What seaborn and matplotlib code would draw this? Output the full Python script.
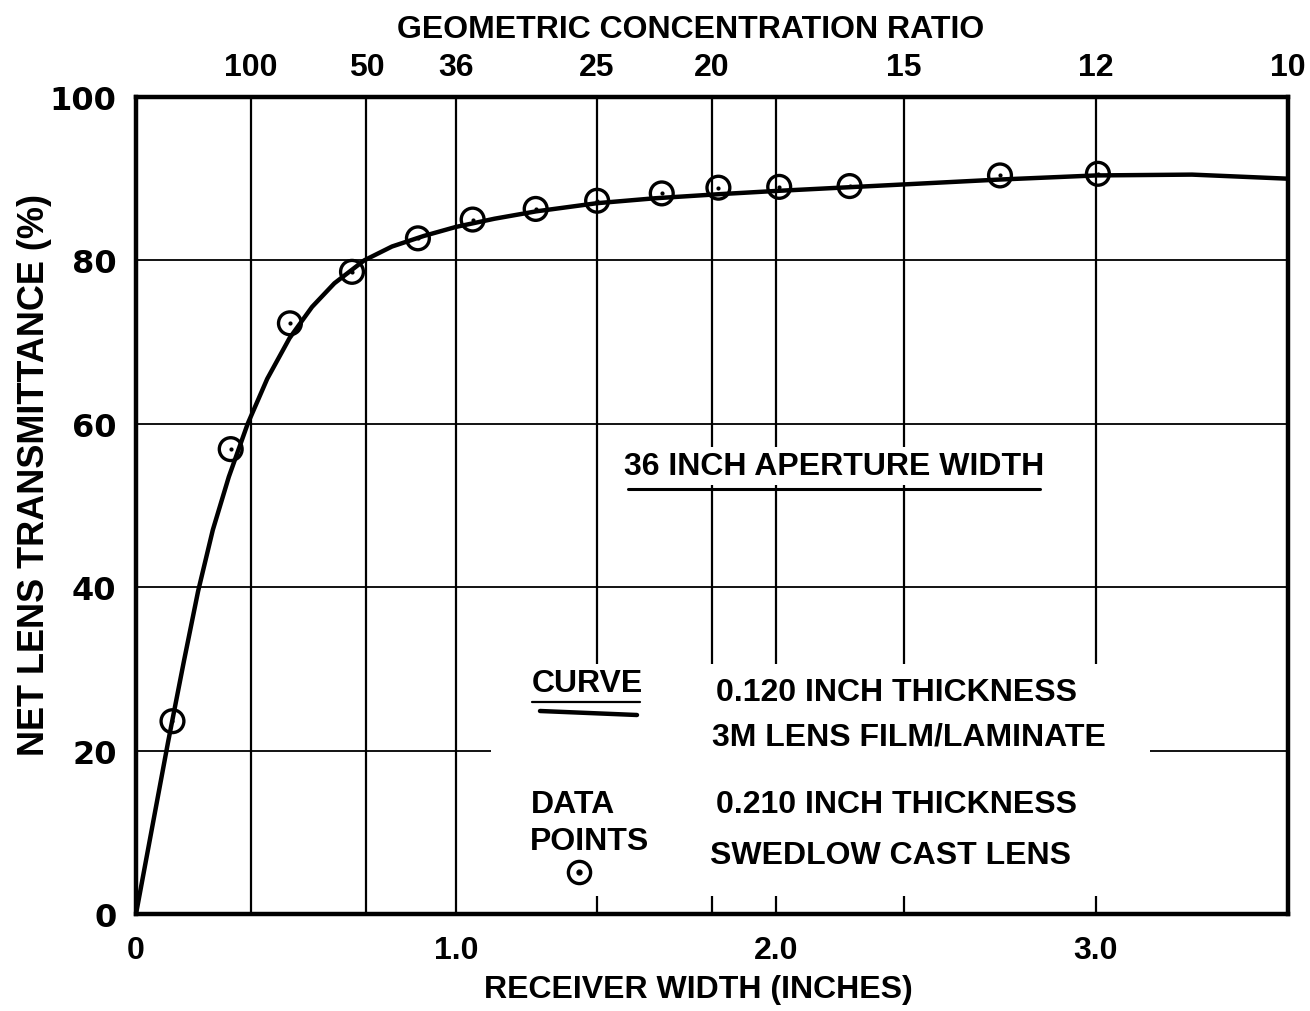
import matplotlib
matplotlib.use("Agg")
import matplotlib.pyplot as plt
import pandas as pd
import seaborn as sns
from matplotlib.patches import Rectangle
from matplotlib.lines import Line2D

# Fitted curve: 0.120 inch thickness 3M lens film/laminate
curve_width = [0.0, 0.05, 0.10, 0.15, 0.194, 0.24, 0.29, 0.349, 0.41, 0.48, 0.55,
               0.62, 0.713, 0.80, 0.90, 1.0, 1.12, 1.25, 1.44, 1.62, 1.82, 2.0,
               2.3, 2.7, 3.0, 3.3, 3.6]
curve_trans = [0.0, 10.5, 21.0, 31.0, 39.5, 47.0, 53.5, 60.0, 65.5, 70.5, 74.3,
               77.2, 80.0, 81.7, 83.0, 84.1, 85.1, 86.0, 87.0, 87.6, 88.1, 88.5,
               89.1, 89.9, 90.4, 90.5, 90.0]

# Measured points: 0.210 inch thickness Swedlow cast lens
point_width = [0.114, 0.296, 0.481, 0.675, 0.881, 1.052, 1.249, 1.441, 1.643,
               1.82, 2.01, 2.23, 2.70, 3.006]
point_trans = [23.6, 56.9, 72.3, 78.6, 82.7, 85.0, 86.3, 87.3, 88.2,
               88.9, 89.0, 89.1, 90.4, 90.6]

# Top scale: geometric concentration ratio for a 36 inch aperture
aperture = 36.0
ratio_labels = [100, 50, 36, 25, 20, 15, 12, 10]
ratio_grid = [100, 50, 36, 25, 20, 18, 15, 12]
x_ticks = [0.0, 1.0, 2.0, 3.0]
x_tick_labels = ["0", "1.0", "2.0", "3.0"]
y_ticks = [0, 20, 40, 60, 80, 100]
y_grid = [20, 40, 60, 80]

sns.set_style("white")
FONT = ["Liberation Sans", "DejaVu Sans"]
plt.rcParams["font.family"] = FONT
plt.rcParams["font.weight"] = "bold"
for key_name in ["text.color", "axes.labelcolor", "xtick.color", "ytick.color",
                 "axes.edgecolor"]:
    plt.rcParams[key_name] = "black"

W, H = 1310, 1012
fig = plt.figure(figsize=(W / 100, H / 100), dpi=100)
L, R, T, B = 136, 1288, 98, 915
ax = fig.add_axes([L / W, 1 - B / H, (R - L) / W, (B - T) / H])


def fx(px):
    return (px - L) / (R - L)


def fy(py):
    return (B - py) / (B - T)


ax.set_xlim(0, aperture / 10)
ax.set_ylim(0, 100)

# grid
for r in ratio_grid:
    ax.axvline(aperture / r, color="black", lw=1.6, zorder=1)
for v in y_grid:
    ax.axhline(v, color="black", lw=1.3, zorder=1)

# white panel behind the key
ax.add_patch(Rectangle((fx(491), fy(897)), fx(1150) - fx(491), fy(665) - fy(897),
                       transform=ax.transAxes, facecolor="white", edgecolor="none",
                       zorder=1.5))

curve_df = pd.DataFrame({"width": curve_width, "trans": curve_trans})
point_df = pd.DataFrame({"width": point_width, "trans": point_trans})

sns.lineplot(data=curve_df, x="width", y="trans", sort=False, estimator=None,
             color="black", lw=3.2, ax=ax, zorder=3)
sns.scatterplot(data=point_df, x="width", y="trans", marker="o", s=270,
                facecolor="none", edgecolor="black", linewidth=2.4, ax=ax, zorder=4)
sns.scatterplot(data=point_df, x="width", y="trans", marker="o", s=9,
                color="black", linewidth=0, ax=ax, zorder=4)

# frame
for sp in ax.spines.values():
    sp.set_linewidth(3.2)
    sp.set_color("black")

FS = 23
ax.set_xticks(x_ticks)
ax.set_xticklabels(x_tick_labels, fontsize=FS, fontweight="bold", family=FONT)
ax.set_yticks(y_ticks)
ax.set_yticklabels([str(v) for v in y_ticks], fontsize=23, fontweight="bold",
                   family=["DejaVu Sans"])
ax.tick_params(axis="x", length=0, pad=15)
ax.tick_params(axis="y", length=0, pad=14)
ax.set_xlabel("")
ax.set_ylabel("")

ax_top = ax.twiny()
ax_top.set_xlim(ax.get_xlim())
ax_top.set_xticks([aperture / r for r in ratio_labels])
ax_top.set_xticklabels([str(r) for r in ratio_labels], fontsize=FS,
                       fontweight="bold", family=FONT)
ax_top.tick_params(axis="x", length=0, pad=11)
for sp in ax_top.spines.values():
    sp.set_visible(False)

fig.text(691 / W, 1 - 30 / H, "GEOMETRIC CONCENTRATION RATIO", ha="center",
         va="center", fontsize=FS, fontweight="bold")
fig.text(698 / W, 1 - 990 / H, "RECEIVER WIDTH (INCHES)", ha="center",
         va="center", fontsize=FS, fontweight="bold")
fig.text(35 / W, 1 - 475 / H, "NET LENS TRANSMITTANCE (%)", ha="center",
         va="center", rotation=90, fontsize=26, fontweight="bold")

# aperture note
ax.text(fx(834), fy(467), "36 INCH APERTURE WIDTH", transform=ax.transAxes,
        ha="center", va="center", fontsize=FS, fontweight="bold", zorder=5,
        bbox=dict(facecolor="white", edgecolor="none", pad=3))
ax.add_line(Line2D([fx(628), fx(1040)], [fy(490), fy(490)], transform=ax.transAxes,
                   color="black", lw=2.2, zorder=6))

# key
key = dict(transform=ax.transAxes, ha="left", va="center", fontsize=FS,
           fontweight="bold", zorder=5)
ax.text(fx(532), fy(684), "CURVE", **key)
ax.add_line(Line2D([fx(532), fx(640)], [fy(703), fy(703)], transform=ax.transAxes,
                   color="black", lw=1.6, zorder=6))
ax.add_line(Line2D([fx(540), fx(637)], [fy(712), fy(716)], transform=ax.transAxes,
                   color="black", lw=3.2, zorder=6))
ax.text(fx(716), fy(693), "0.120 INCH THICKNESS", **key)
ax.text(fx(712), fy(737), "3M LENS FILM/LAMINATE", **key)
ax.text(fx(531), fy(805), "DATA", **key)
ax.text(fx(530), fy(842), "POINTS", **key)
ax.plot([fx(579)], [fy(873)], marker="o", ms=16, mfc="none", mec="black", mew=2.4,
        transform=ax.transAxes, zorder=6)
ax.plot([fx(579)], [fy(873)], marker="o", ms=3.5, color="black",
        transform=ax.transAxes, zorder=6)
ax.text(fx(716), fy(805), "0.210 INCH THICKNESS", **key)
ax.text(fx(710), fy(856), "SWEDLOW CAST LENS", **key)

fig.savefig("out.png", dpi=100)
